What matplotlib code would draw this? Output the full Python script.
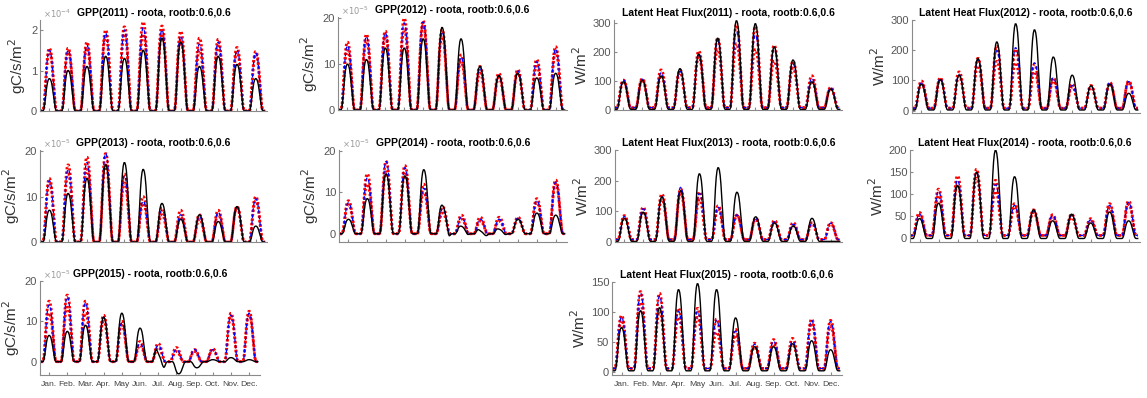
import numpy as np
import matplotlib.pyplot as plt

plt.rcParams['font.family'] = ['Liberation Sans', 'DejaVu Sans']

months = ['Jan.', 'Feb.', 'Mar.', 'Apr.', 'May', 'Jun.', 'Jul.', 'Aug.', 'Sep.', 'Oct.', 'Nov.', 'Dec.']

# typical diurnal shape (hourly, fraction of the monthly peak)
diurnal = [0, 0, 0, 0, 0.02, 0.12, 0.3, 0.52, 0.72, 0.87, 0.96, 1.0,
           1.0, 0.97, 0.9, 0.78, 0.62, 0.44, 0.26, 0.1, 0.02, 0, 0, 0]

# monthly peaks: obs (black), two model runs (red), one model run (blue)
gpp2011_obs = [0.8, 1.0, 1.1, 1.35, 1.3, 1.5, 1.8, 1.7, 1.1, 1.35, 1.15, 0.8]
gpp2011_hi = [1.55, 1.55, 1.7, 2.0, 2.08, 2.2, 2.1, 1.97, 1.8, 1.77, 1.57, 1.47]
gpp2011_lo = [1.45, 1.45, 1.55, 1.85, 1.9, 1.9, 1.9, 1.75, 1.5, 1.6, 1.45, 1.4]
gpp2011_mid = [1.5, 1.5, 1.62, 1.92, 2.0, 2.05, 2.0, 1.85, 1.65, 1.7, 1.5, 1.43]

gpp2012_obs = [10, 11, 13.5, 13.5, 15.5, 18, 15.5, 9.5, 7.5, 8, 7, 8]
gpp2012_hi = [14.8, 16.5, 17.2, 20, 19.5, 17.5, 12, 9.5, 8, 8.8, 11, 13.8]
gpp2012_lo = [13, 15, 16, 17.5, 18.5, 16, 10.5, 8, 7, 8, 9.5, 12.5]
gpp2012_mid = [14, 16, 16.8, 19, 19.2, 17, 11.5, 9, 7.5, 8.5, 10.5, 13.3]

gpp2013_obs = [7, 10.7, 14, 17, 17.5, 16, 8.5, 5, 6, 4.5, 7.8, 3.5]
gpp2013_hi = [14, 17, 18.7, 19.5, 15, 10, 7.5, 7, 6, 7, 7.8, 10]
gpp2013_lo = [13, 15, 16, 17, 13, 8.5, 6, 5.5, 5, 6, 7.5, 9]
gpp2013_mid = [13.5, 16, 17.5, 19.5, 14.5, 9, 7, 6, 5.5, 6.5, 7.8, 9.5]

gpp2014_obs = [3.5, 8.5, 14.5, 14, 15.5, 8, 2.2, 1.5, 1.5, 3.5, 5, 4.5]
gpp2014_hi = [8, 14.5, 17.5, 16.5, 12, 6.5, 4.5, 4, 4, 4, 8.5, 13]
gpp2014_lo = [7, 12, 15, 14.5, 10, 5, 3.5, 3, 3, 3.5, 7.5, 12]
gpp2014_mid = [7.5, 13.5, 17.5, 16, 11, 6, 4, 3.5, 3.5, 3.8, 8, 12.5]
gpp2014_dip = [0, 0, 0, 0, 0, -1.5, -0.5, -1, -0.5, 0, 0, 0]

gpp2015_obs = [6.5, 7.5, 9, 11, 12, 8.3, 4.5, 0, 0, 0.5, 1, 0.5]
gpp2015_hi = [15, 16.5, 15, 11.5, 10, 5, 4.5, 3.5, 3, 3.2, 12, 12.5]
gpp2015_lo = [12, 13.5, 12, 10, 9, 4, 3.5, 2.5, 2.5, 2.8, 11, 11.5]
gpp2015_mid = [14, 16, 14.5, 11, 9.5, 4.5, 4, 3, 3, 3, 11.5, 12]
gpp2015_dip = [0, 0, 0, 0, 0, 0, -3, -3, -1.5, 0, 0, 0]

le2011_obs = [95, 100, 115, 140, 190, 245, 305, 295, 215, 170, 95, 70]
le2011_hi = [95, 100, 130, 130, 195, 240, 285, 280, 215, 160, 110, 70]
le2011_lo = [90, 95, 110, 120, 175, 200, 220, 200, 160, 135, 90, 65]
le2011_mid = [95, 98, 120, 125, 185, 230, 260, 250, 200, 150, 100, 68]

le2012_obs = [85, 100, 115, 170, 225, 285, 265, 175, 115, 80, 85, 55]
le2012_hi = [90, 100, 120, 165, 205, 195, 145, 100, 80, 75, 85, 90]
le2012_lo = [80, 95, 105, 140, 155, 150, 120, 90, 70, 68, 80, 85]
le2012_mid = [85, 98, 110, 160, 190, 200, 150, 100, 75, 72, 85, 88]

le2013_obs = [75, 95, 145, 165, 220, 240, 160, 80, 60, 50, 75, 0]
le2013_hi = [78, 105, 148, 165, 155, 110, 80, 70, 62, 55, 55, 55]
le2013_lo = [70, 90, 130, 150, 130, 100, 78, 65, 55, 45, 50, 50]
le2013_mid = [75, 100, 140, 170, 150, 105, 80, 68, 58, 50, 52, 53]

le2014_obs = [45, 80, 120, 150, 200, 140, 65, 40, 55, 35, 60, 40]
le2014_hi = [52, 105, 135, 150, 125, 72, 58, 47, 48, 38, 72, 78]
le2014_lo = [45, 90, 115, 130, 100, 65, 52, 42, 40, 33, 62, 70]
le2014_mid = [48, 100, 125, 145, 115, 68, 55, 45, 45, 35, 68, 75]

le2015_obs = [72, 100, 105, 135, 145, 135, 88, 40, 40, 45, 50, 35]
le2015_hi = [88, 128, 125, 100, 100, 82, 65, 42, 48, 50, 82, 80]
le2015_lo = [80, 110, 95, 85, 85, 60, 55, 35, 40, 40, 75, 70]
le2015_mid = [85, 125, 120, 95, 95, 80, 62, 40, 45, 45, 80, 78]


def series(peaks, base=0.0, dip=None):
    shape = np.array(diurnal)
    late = np.roll(shape, 3)
    out = []
    for m in range(12):
        day = base + peaks[m] * shape
        if dip is not None:
            day = day + dip[m] * late
        out.append(day)
    return np.concatenate(out)


x = np.arange(12 * 24) / 24.0 + 0.5 / 24

fig = plt.figure(figsize=(11.47, 3.98), dpi=100)
W, H = 1147.0, 398.0
gray = '#8a8a8a'


def panel(left, right, top, bottom, title, obs, hi, lo, mid, ylim, yticks, ylabel,
          expo=None, base_obs=0.0, base_mod=0.0, dip=None, xlabels=False):
    ax = fig.add_axes([left / W, 1 - bottom / H, (right - left) / W, (bottom - top) / H])
    ax.plot(x, series(hi, base_mod), color='r', lw=2.0, ls=(0, (0.8, 0.8)))
    ax.plot(x, series(lo, base_mod), color='r', lw=2.0, ls=(0, (0.8, 0.8)))
    ax.plot(x, series(mid, base_mod), color='b', lw=0.9, ls=(0, (3, 2)))
    ax.plot(x, series(obs, base_obs, dip), color='k', lw=1.0)
    ax.set_xlim(0, 12.1)
    ax.set_ylim(ylim)
    ax.set_yticks(yticks)
    ax.set_yticklabels([('%g' % t) for t in yticks])
    if expo is not None:
        ax.text(0.015, 1.0, r'$\times10^{%d}$' % expo, transform=ax.transAxes,
                fontsize=6, color='#999999', ha='left', va='bottom')
    ax.set_xticks(np.arange(12) + 0.5)
    if xlabels:
        ax.set_xticklabels(months)
    else:
        ax.set_xticklabels([])
    for sp in ['top', 'right']:
        ax.spines[sp].set_visible(False)
    for sp in ['left', 'bottom']:
        ax.spines[sp].set_color(gray)
        ax.spines[sp].set_linewidth(0.8)
    ax.tick_params(direction='in', length=2, color=gray, labelcolor='#555555')
    ax.tick_params(axis='y', labelsize=8, pad=2)
    ax.tick_params(axis='x', labelsize=6.1, pad=4, labelcolor='#444444')
    ax.set_title(title, fontsize=7.5, fontweight='bold', pad=3)
    ax.set_ylabel(ylabel, fontsize=11, color='#333333', labelpad=2)
    return ax


gl = 'gC/s/m$^2$'
ll = 'W/m$^2$'
tag = ' - roota, rootb:0.6,0.6'

panel(40, 267, 20, 111, 'GPP(2011)' + tag, gpp2011_obs, gpp2011_hi, gpp2011_lo, gpp2011_mid,
      (0, 2.25), [0, 1, 2], gl, expo=-4)
panel(338, 567, 17, 110, 'GPP(2012)' + tag, gpp2012_obs, gpp2012_hi, gpp2012_lo, gpp2012_mid,
      (0, 20.3), [0, 10, 20], gl, expo=-5)
panel(614, 842, 20, 110, 'Latent Heat Flux(2011)' + tag, le2011_obs, le2011_hi, le2011_lo, le2011_mid,
      (0, 310), [0, 100, 200, 300], ll, base_obs=2, base_mod=8)
panel(912, 1140, 20, 113, 'Latent Heat Flux(2012)' + tag, le2012_obs, le2012_hi, le2012_lo, le2012_mid,
      (-8, 300), [0, 100, 200, 300], ll, base_obs=2, base_mod=8)

panel(40, 267, 150, 242, 'GPP(2013)' + tag, gpp2013_obs, gpp2013_hi, gpp2013_lo, gpp2013_mid,
      (0, 20.3), [0, 10, 20], gl, expo=-5)
panel(339, 567, 150, 242, 'GPP(2014)' + tag, gpp2014_obs, gpp2014_hi, gpp2014_lo, gpp2014_mid,
      (-2, 20.3), [0, 10, 20], gl, expo=-5, dip=gpp2014_dip)
panel(615, 842, 150, 242, 'Latent Heat Flux(2013)' + tag, le2013_obs, le2013_hi, le2013_lo, le2013_mid,
      (0, 300), [0, 100, 200, 300], ll, base_obs=2, base_mod=8)
panel(910, 1140, 150, 242, 'Latent Heat Flux(2014)' + tag, le2014_obs, le2014_hi, le2014_lo, le2014_mid,
      (-9, 200), [0, 50, 100, 150, 200], ll, base_obs=-1, base_mod=6)

panel(40, 260, 281, 375, 'GPP(2015)' + tag, gpp2015_obs, gpp2015_hi, gpp2015_lo, gpp2015_mid,
      (-3.3, 20), [0, 10, 20], gl, expo=-5, dip=gpp2015_dip, xlabels=True)
panel(612, 842, 282, 375, 'Latent Heat Flux(2015)' + tag, le2015_obs, le2015_hi, le2015_lo, le2015_mid,
      (-5, 150), [0, 50, 100, 150], ll, base_obs=2, base_mod=6, xlabels=True)

fig.savefig('out.png', dpi=100)
